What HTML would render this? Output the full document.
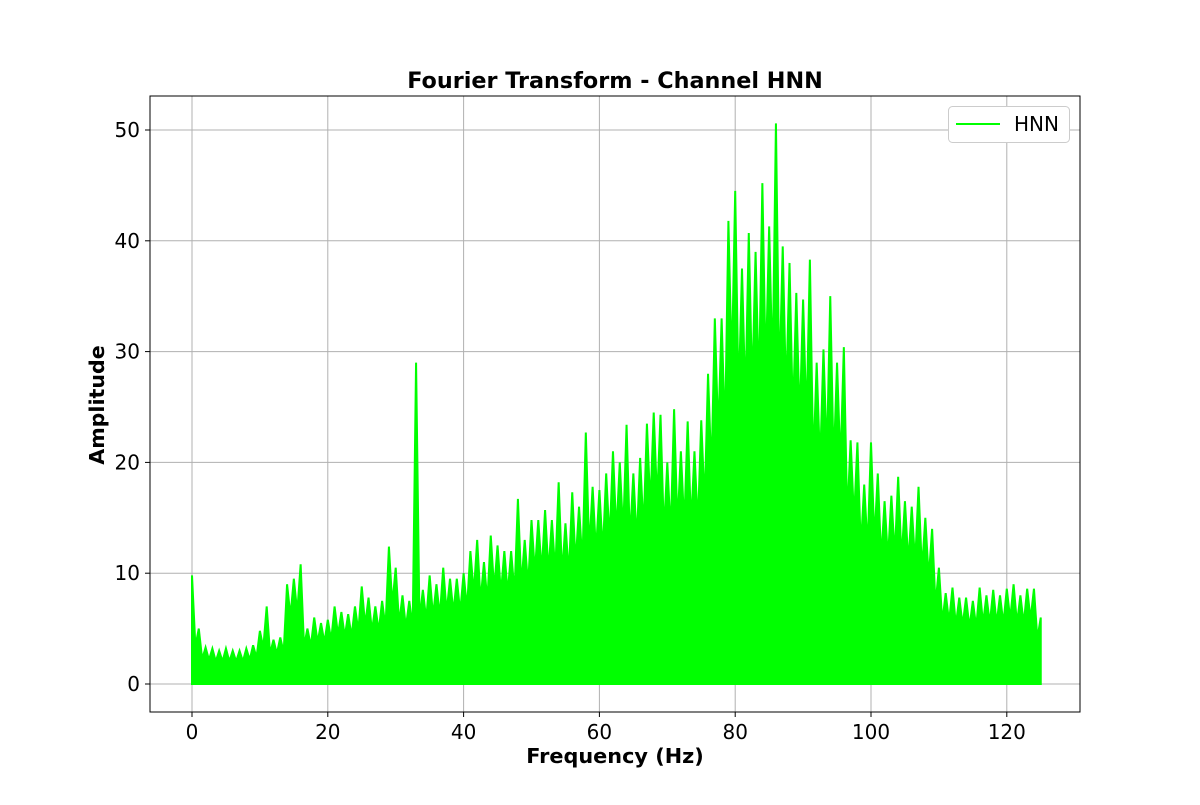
<!DOCTYPE html>
<html><head><meta charset="utf-8"><style>
body{margin:0;background:#fff}
svg text{font-family:"DejaVu Sans","Liberation Sans",sans-serif}
</style></head><body>
<svg id="chart" width="1200" height="800">
<rect width="1200" height="800" fill="#fff"/>
<g id="grid"></g>
<g id="series"></g>
<rect x="150" y="96" width="930" height="616" fill="none" stroke="#000" stroke-width="1"/>
<g id="ticks"></g>
<text x="615" y="88" text-anchor="middle" font-size="22.3" font-weight="bold">Fourier Transform - Channel HNN</text>
<text x="615" y="763" text-anchor="middle" font-size="20.8" font-weight="bold">Frequency (Hz)</text>
<text transform="translate(104,405) rotate(-90)" text-anchor="middle" font-size="20.6" font-weight="bold">Amplitude</text>
<g>
<rect x="948.5" y="106.5" width="121" height="36" rx="4" fill="#fff" stroke="#ccc"/>
<line x1="956" y1="124" x2="1000" y2="124" stroke="#00ff00" stroke-width="2"/>
<text x="1014" y="131" font-size="20">HNN</text>
</g>
</svg>
<script>
const freqs=[];for(let i=0;i<=125;i++)freqs.push(i);
const peaks=[9.8,5,3.3,3.2,3,3.2,3,3,3.2,3.5,4.8,7,4,4.2,9,9.5,10.8,5,6,5.5,5.8,7,6.5,6.3,7,8.8,7.8,7,7.5,12.4,10.5,8,7.5,29,8.5,9.8,9,10.5,9.5,9.5,10,12,13,11,13.4,12.5,12,12,16.7,13,14.8,14.8,15.7,14.8,18.2,14.5,17.3,16,22.7,17.8,17.5,19,21,20,23.4,19,20.4,23.5,24.5,24.3,20,24.8,21,23.7,21,23.8,28,33,33,41.8,44.5,37.5,40.7,39,45.2,41.3,50.6,39.5,38,35.3,34.7,38.3,29,30.2,35,29,30.4,22,21.8,18,21.8,19,16.5,17,18.7,16.5,16,17.8,15,14,10.5,8.2,8.7,7.8,7.8,7.5,8.7,8,8.5,8,8.6,9,8,8.6,8.6,6];
const xTicks=[0,20,40,60,80,100,120];
const yTicks=[0,10,20,30,40,50];
const X=v=>192+v*6.79, Y=v=>684-v*11.08;
const NS='http://www.w3.org/2000/svg';
const mk=(t,a,p)=>{const e=document.createElementNS(NS,t);for(const k in a)e.setAttribute(k,a[k]);p.appendChild(e);return e;};
const grid=document.getElementById('grid'),ticks=document.getElementById('ticks'),series=document.getElementById('series');
xTicks.forEach(v=>{
 const g=mk('line',{x1:X(v),x2:X(v),y1:96,y2:712,stroke:'#b0b0b0','stroke-width':1},grid);
 
 
 mk('line',{x1:X(v),x2:X(v),y1:712,y2:717,stroke:'#000'},ticks);
 const t=mk('text',{x:X(v),y:739,'text-anchor':'middle','font-size':20},ticks);t.textContent=v;
 
 
});
yTicks.forEach(v=>{
 const g=mk('line',{x1:150,x2:1080,y1:Y(v),y2:Y(v),stroke:'#b0b0b0','stroke-width':1},grid);
 
 
 mk('line',{x1:145,x2:150,y1:Y(v),y2:Y(v),stroke:'#000'},ticks);
 const t=mk('text',{x:140,y:Y(v)+7,'text-anchor':'end','font-size':20},ticks);t.textContent=v;
 
 
});
let pts=[[X(0),Y(0)]];
freqs.forEach((f,i)=>{
 pts.push([X(f),Y(peaks[i])]);
 if(i<freqs.length-1){const m=Math.min(peaks[i],peaks[i+1])*0.68;pts.push([X(f+0.5),Y(m)]);}
});
pts.push([X(125),Y(0)]);
const poly=mk('polygon',{points:pts.map(p=>p.join(',')).join(' '),fill:'#00ff00',stroke:'#00ff00','stroke-width':2,'stroke-linejoin':'miter'},series);


</script>
</body></html>
